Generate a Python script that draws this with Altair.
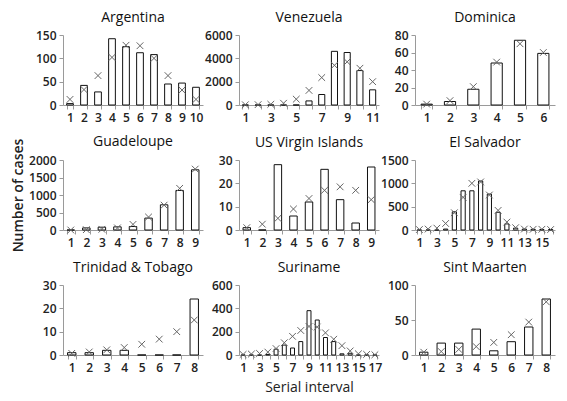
import altair as alt
import pandas as pd

FONT = "Open Sans"

argentina_obs = [3, 42, 28, 142, 125, 112, 108, 45, 47, 38]
argentina_exp = [12, 33, 63, 102, 128, 127, 100, 63, 32, 12]

venezuela_obs = [0, 0, 0, 0, 0, 350, 900, 4600, 4500, 2950, 1300]
venezuela_exp = [20, 30, 60, 150, 500, 1250, 2350, 3400, 3700, 3150, 2000]

dominica_obs = [1, 4, 18, 48, 74, 59]
dominica_exp = [1, 5, 21, 49, 70, 60]

guadeloupe_obs = [0, 60, 80, 90, 100, 340, 720, 1130, 1720]
guadeloupe_exp = [0, 10, 20, 60, 160, 370, 710, 1190, 1740]

usvi_obs = [1, 0, 28, 6, 12, 26, 13, 3, 27]
usvi_exp = [1, 2.5, 5, 9, 13.5, 17, 18.5, 17, 13]

elsalvador_obs = [0, 0, 0, 20, 390, 840, 840, 1050, 770, 380, 130, 40, 20, 15, 10, 10]
elsalvador_exp = [10, 20, 40, 140, 370, 700, 1000, 1030, 750, 420, 170, 50, 20, 15, 15, 10]

trinidad_obs = [1, 1, 2, 2, 0, 0, 0, 24]
trinidad_exp = [0.7, 1.3, 2.2, 3.2, 4.6, 6.8, 10, 15]

suriname_obs = [0, 0, 0, 5, 50, 85, 60, 115, 380, 300, 150, 115, 10, 15, 0, 0, 0]
suriname_exp = [5, 8, 13, 25, 55, 105, 160, 210, 245, 240, 190, 135, 80, 35, 10, 5, 2]

sintmaarten_obs = [4, 17, 17, 37, 6, 19, 40, 80]
sintmaarten_exp = [4, 5, 8, 12, 18, 29, 47, 76]

panels = [
    ("Argentina", argentina_obs, argentina_exp, [0, 50, 100, 150], False),
    ("Venezuela", venezuela_obs, venezuela_exp, [0, 2000, 4000, 6000], True),
    ("Dominica", dominica_obs, dominica_exp, [0, 20, 40, 60, 80], False),
    ("Guadeloupe", guadeloupe_obs, guadeloupe_exp, [0, 500, 1000, 1500, 2000], False),
    ("US Virgin Islands", usvi_obs, usvi_exp, [0, 10, 20, 30], False),
    ("El Salvador", elsalvador_obs, elsalvador_exp, [0, 500, 1000, 1500], True),
    ("Trinidad & Tobago", trinidad_obs, trinidad_exp, [0, 10, 20, 30], False),
    ("Suriname", suriname_obs, suriname_exp, [0, 200, 400, 600], True),
    ("Sint Maarten", sintmaarten_obs, sintmaarten_exp, [0, 50, 100], False),
]

XSHAPE = "M-1,-1L1,1M-1,1L1,-1"


def make_panel(name, obs, exp, yticks, odd_only, ytitle=None, xtitle=None, title_dy=0):
    n = len(obs)
    df = pd.DataFrame({"si": list(range(1, n + 1)), "obs": obs, "exp": exp})
    xaxis_kwargs = dict(
        labelAngle=0, tickBand="extent", domainColor="#9a9a9a", tickColor="#9a9a9a",
        tickSize=4, labelFont=FONT, labelFontSize=12, labelFontWeight=600,
        labelColor="#222", labelPadding=3, titleFont=FONT, titleFontSize=14,
        titleFontWeight="normal", titleColor="#222", titlePadding=7,
        labelOverlap=False,
    )
    if odd_only:
        xaxis_kwargs["labelExpr"] = "datum.value % 2 == 1 ? datum.label : ''"
    xaxis_kwargs["title"] = xtitle if xtitle else None
    xaxis = alt.Axis(**xaxis_kwargs)
    xscale = alt.Scale(paddingInner=0.52, paddingOuter=0.26)
    yaxis = alt.Axis(
        values=yticks, grid=False, domainColor="#9a9a9a", tickColor="#9a9a9a",
        tickSize=4, labelFont=FONT, labelFontSize=12, labelFontWeight=600,
        labelColor="#222", labelPadding=3, titleFont=FONT, titleFontSize=14,
        titleFontWeight=600, titleColor="#222", titlePadding=3, format="d",
        labelOverlap=False, title=ytitle if ytitle else None,
    )
    yscale = alt.Scale(domain=[0, yticks[-1]])
    bars = alt.Chart(df).mark_bar(fill="white", stroke="#111", strokeWidth=1).encode(
        x=alt.X("si:O", axis=xaxis, scale=xscale),
        y=alt.Y("obs:Q", scale=yscale, axis=yaxis),
    )
    pts = alt.Chart(df).mark_point(
        shape=XSHAPE, filled=False, stroke="#666", strokeWidth=1, size=45, opacity=1
    ).encode(
        x=alt.X("si:O", axis=xaxis, scale=xscale),
        y=alt.Y("exp:Q", scale=yscale, axis=yaxis),
    )
    tp = dict(font=FONT, fontSize=14, fontWeight="normal", color="#111", offset=4)
    if title_dy:
        tp["dy"] = title_dy
    return alt.layer(bars, pts).properties(
        width=140, height=70, title=alt.TitleParams(name, **tp),
    )


charts = []
for name, obs, exp, yticks, odd in panels:
    ytitle = "Number of cases" if name == "Guadeloupe" else None
    xtitle = "Serial interval" if name == "Suriname" else None
    dy = 15 if name == "Guadeloupe" else 0
    charts.append(make_panel(name, obs, exp, yticks, odd, ytitle, xtitle, dy))

chart = alt.concat(
    *charts, columns=3, bounds="flush", spacing={"row": 55, "column": 36}
).properties(
    padding={"left": 3, "top": 3, "right": 0, "bottom": 0}
).configure_view(stroke=None)

chart.save("out.html", embed_options={"renderer": "svg", "actions": False})
